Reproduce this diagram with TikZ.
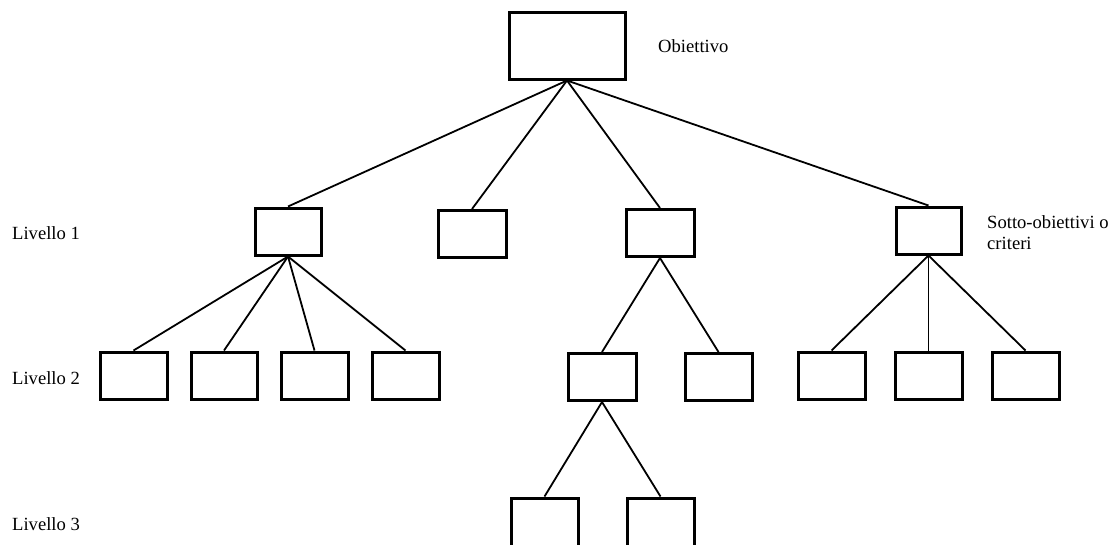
\documentclass[tikz,border=0pt]{standalone}
\usepackage{fontspec}
\setmainfont{Liberation Serif}
\begin{document}
\begin{tikzpicture}[x=1pt,y=-1pt,
  box/.style={draw=black,line width=3pt,rectangle,minimum width=66pt,minimum height=47pt,inner sep=0pt},
  bigbox/.style={box,minimum width=116pt,minimum height=67pt},
  conn/.style={draw=black,line width=1.8pt},
  lbl/.style={inner sep=0pt,font=\fontsize{18.6}{21}\selectfont,align=left}]
\useasboundingbox (0,0) rectangle (1115,544);
\clip (0,0) rectangle (1115,544);
% top
\node[bigbox] (top) at (567,45.5) {};
% level 1
\node[box,minimum width=66pt] (a) at (288,231.5) {};
\node[box,minimum width=68pt] (b) at (472,234) {};
\node[box,minimum width=68pt] (c) at (660,233) {};
\node[box,minimum width=65pt] (d) at (928.5,230.5) {};
% level 2
\node[box,minimum width=67pt] (a1) at (133.5,375.5) {};
\node[box,minimum width=66pt] (a2) at (224,375.5) {};
\node[box,minimum width=67pt] (a3) at (314.5,375.5) {};
\node[box,minimum width=67pt] (a4) at (405.5,375.5) {};
\node[box,minimum width=68pt] (c1) at (602,377) {};
\node[box,minimum width=67pt] (c2) at (718.5,377) {};
\node[box,minimum width=67pt] (d1) at (831.5,375.5) {};
\node[box,minimum width=67pt] (d2) at (928.5,375.5) {};
\node[box,minimum width=67pt] (d3) at (1025.5,375.5) {};
% level 3 (cut off by the lower edge of the picture)
\node[box,minimum width=67pt,minimum height=52pt] (e1) at (544.5,524) {};
\node[box,minimum width=67pt,minimum height=52pt] (e2) at (660.5,524) {};
% connectors
\foreach \n in {a,b,c,d} \draw[conn] (top.south) -- (\n.north);
\foreach \n in {a1,a2,a3,a4} \draw[conn] (a.south) -- (\n.north);
\foreach \n in {c1,c2} \draw[conn] (c.south) -- (\n.north);
\foreach \n in {d1,d2,d3} \draw[conn] (d.south) -- (\n.north);
\foreach \n in {e1,e2} \draw[conn] (c1.south) -- (\n.north);
% labels
\node[lbl,anchor=west] (lobj) at (658,46) {Obiettivo};
\node[lbl,anchor=west] (lsub) at (987,232.5) {Sotto-obiettivi o\\criteri};
\node[lbl,anchor=west] (l1) at (12,233) {Livello 1};
\node[lbl,anchor=west] (l2) at (12,378) {Livello 2};
\node[lbl,anchor=west] (l3) at (12,524) {Livello 3};
\end{tikzpicture}
\end{document}
